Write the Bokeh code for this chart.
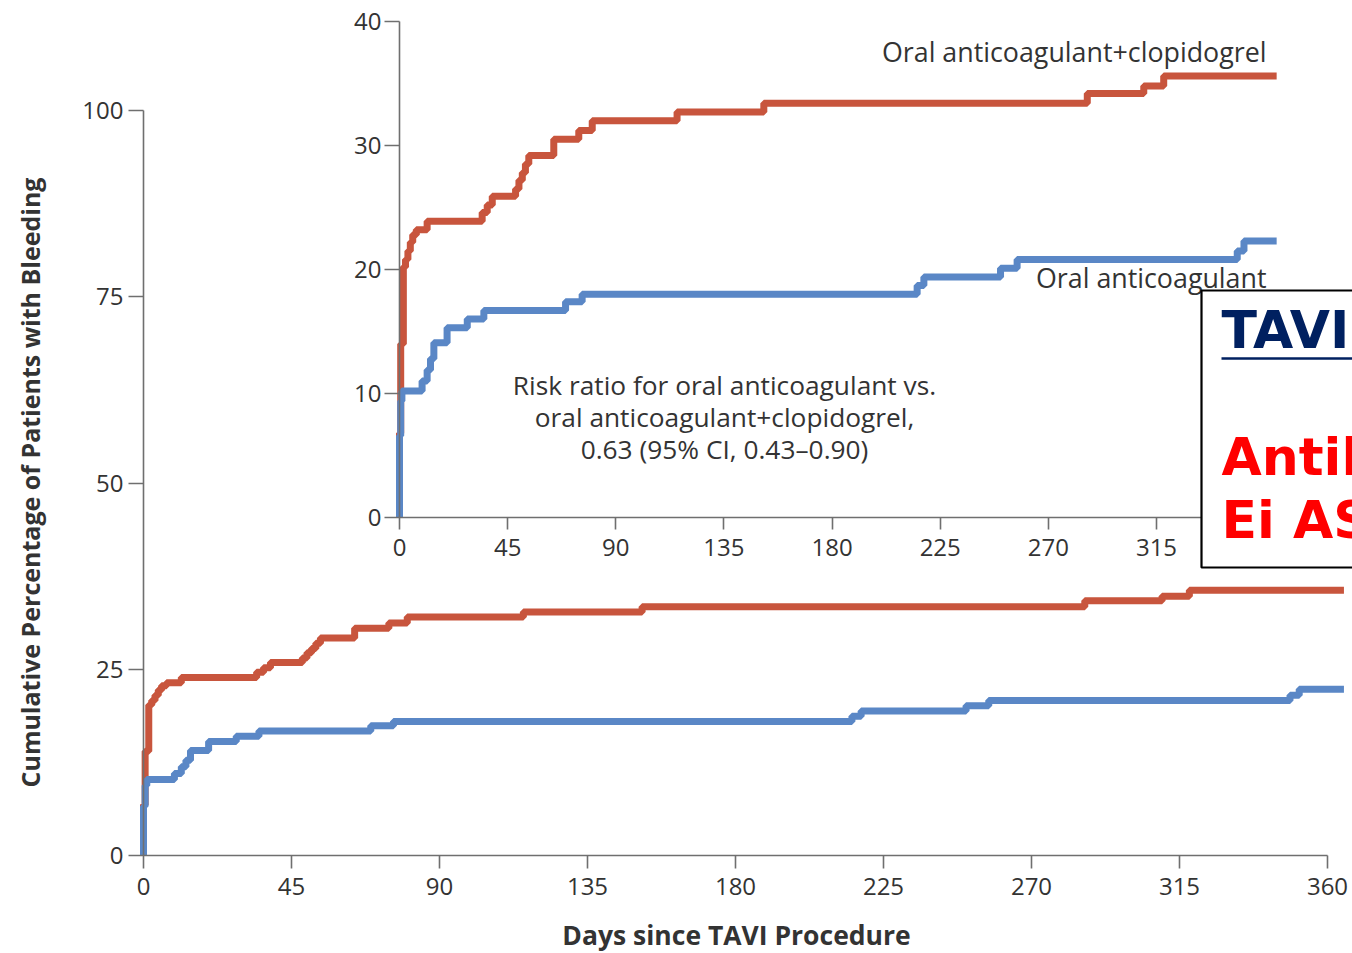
import math
from bokeh.plotting import figure
from bokeh.models import Range1d, LinearAxis, FixedTicker, Label
from bokeh.core.properties import value
from bokeh.embed import file_html
from bokeh.resources import INLINE

# ---------------- data ----------------
# Oral anticoagulant + clopidogrel (red)
days_oac_clop = [0, 0, 0.5, 1.6, 2.5, 3.5, 4.5, 5.5, 7.0, 11.5, 34.4, 36.5, 38.6,
                 48.3, 49.7, 51.1, 52.4, 53.8, 64.2, 74.6, 80.2, 115.5, 151.6,
                 286.2, 309.7, 318.0, 365]
pct_oac_clop = [0, 6.8, 14.0, 20.2, 20.8, 21.5, 22.2, 22.8, 23.2, 23.9, 24.6, 25.2, 25.9,
                26.5, 27.2, 27.8, 28.5, 29.2, 30.5, 31.2, 32.0, 32.7, 33.4,
                34.2, 34.8, 35.6, 35.6]
# Oral anticoagulant alone (blue)
days_oac = [0, 0, 0.5, 1.0, 9.4, 11.5, 12.9, 14.3, 19.8, 28.2, 35.1, 69.1, 76.0,
            215.4, 218.2, 250.1, 257.0, 348.6, 351.4, 365]
pct_oac = [0, 6.6, 9.4, 10.2, 11.0, 11.9, 12.8, 14.1, 15.3, 16.0, 16.7, 17.4, 18.0,
           18.7, 19.4, 20.1, 20.8, 21.5, 22.3, 22.3]

x_ticks = [0, 45, 90, 135, 180, 225, 270, 315, 360]
main_y_ticks = [0, 25, 50, 75, 100]
inset_y_ticks = [0, 10, 20, 30, 40]

series_labels = ["Oral anticoagulant+clopidogrel", "Oral anticoagulant"]
risk_lines = ["Risk ratio for oral anticoagulant vs.",
              "oral anticoagulant+clopidogrel,",
              "0.63 (95% CI, 0.43\u20130.90)"]
x_title = "Days since TAVI Procedure"
y_title = "Cumulative Percentage of Patients with Bleeding"
box_title = "TAVI"
box_lines = ["Antikoagulantti", "Ei ASA"]

# ---------------- layout helpers (pixel geometry) ----------------
W, H = 1352, 953
M_X0, M_PXD = 143, 1184 / 360      # main: day 0 px, px per day
M_Y0, M_PXV = 855, 7.45            # main: value 0 px, px per unit
I_X0, I_PXD = 399, 757 / 315       # inset
I_Y0, I_PXV = 517, 12.4

def m_day(px): return (px - M_X0) / M_PXD
def m_val(py): return (M_Y0 - py) / M_PXV
def i_day(px): return (px - I_X0) / I_PXD
def i_val(py): return (I_Y0 - py) / I_PXV

OS_SHIFT = 12      # baseline correction for ~26px text (px)
RED = "#C8553D"
BLUE = "#5A87C6"
TXT = "#333333"
AX = "#6f6f6f"
FONT = "Open Sans"

# the plotting frame covers the whole canvas; all axes are placed at fixed locations
p = figure(width=W, height=H, output_backend="svg", toolbar_location=None,
           x_range=Range1d(m_day(0), m_day(W)),
           y_range=Range1d(m_val(H), m_val(0)),
           x_axis_location=None, y_axis_location=None,
           min_border_left=0, min_border_right=0,
           min_border_top=0, min_border_bottom=0)
p.center = []
p.outline_line_color = None
p.background_fill_color = "white"
p.border_fill_color = "white"
p.extra_x_ranges = {"ix": Range1d(i_day(0), i_day(W))}
p.extra_y_ranges = {"iy": Range1d(i_val(H), i_val(0))}

def style_axis(ax, tick_out, standoff):
    ax.axis_line_color = AX
    ax.axis_line_width = 1.6
    ax.major_tick_line_color = AX
    ax.major_tick_line_width = 1.6
    ax.major_tick_out = tick_out
    ax.major_tick_in = 0
    ax.minor_tick_line_color = None
    ax.major_label_text_font = FONT
    ax.major_label_text_font_size = "24px"
    ax.major_label_text_color = TXT
    ax.major_label_standoff = standoff

# main axes
mx = LinearAxis(bounds=(0, 360), ticker=FixedTicker(ticks=x_ticks), fixed_location=0)
style_axis(mx, 13, 9)
p.add_layout(mx, "below")
my = LinearAxis(bounds=(0, 100), ticker=FixedTicker(ticks=main_y_ticks), fixed_location=0)
style_axis(my, 15, 5)
p.add_layout(my, "left")

# inset axes
ix = LinearAxis(x_range_name="ix", y_range_name="iy", fixed_location=0,
                bounds=(0, 360), ticker=FixedTicker(ticks=x_ticks))
style_axis(ix, 12, 9)
p.add_layout(ix, "below")
iy = LinearAxis(x_range_name="ix", y_range_name="iy", fixed_location=0,
                bounds=(0, 40), ticker=FixedTicker(ticks=inset_y_ticks))
style_axis(iy, 15, 3)
p.add_layout(iy, "left")

LW = 7
# main curves
p.step(days_oac_clop, pct_oac_clop, mode="after", line_width=LW, line_color=RED)
p.step(days_oac, pct_oac, mode="after", line_width=LW, line_color=BLUE)
# inset curves
p.step(days_oac_clop, pct_oac_clop, mode="after", line_width=LW, line_color=RED,
       x_range_name="ix", y_range_name="iy")
p.step(days_oac, pct_oac, mode="after", line_width=LW, line_color=BLUE,
       x_range_name="ix", y_range_name="iy")

# series labels in inset
p.text(x=[i_day(1266), i_day(1266)],
       y=[i_val(63 - OS_SHIFT), i_val(289 - OS_SHIFT)], text=series_labels,
       text_font=value(FONT), text_font_size=value("26.8px"), text_color=TXT,
       text_align="right", text_baseline="alphabetic",
       x_range_name="ix", y_range_name="iy")
# risk ratio annotation
p.text(x=[i_day(724)] * 3,
       y=[i_val(396 - OS_SHIFT), i_val(428 - OS_SHIFT), i_val(460 - OS_SHIFT)],
       text=risk_lines,
       text_font=value(FONT), text_font_size=value("26.3px"), text_color=TXT,
       text_align="center", text_baseline="alphabetic",
       x_range_name="ix", y_range_name="iy")

# axis titles
p.add_layout(Label(x=m_day(736), y=m_val(946 - OS_SHIFT), text=x_title, text_font=FONT,
                   text_font_size="26.5px", text_font_style="bold", text_color=TXT,
                   text_align="center", text_baseline="alphabetic"))
p.add_layout(Label(x=m_day(29), y=m_val(482), text=y_title, text_font=FONT,
                   angle=math.pi / 2, text_font_size="25px", text_font_style="bold",
                   text_color=TXT, text_align="center", text_baseline="middle"))

# overlay box on the right
BOX_SHIFT = 21
p.quad(left=[i_day(1201)], right=[i_day(1400)], bottom=[i_val(567)], top=[i_val(290)],
       fill_color="white", line_color="black", line_width=2.2, level="overlay",
       x_range_name="ix", y_range_name="iy")
p.text(x=[i_day(1221)], y=[i_val(350 - BOX_SHIFT)], text=[box_title],
       text_font=value("DejaVu Sans"), text_font_style="bold",
       text_font_size=value("52px"), text_color="#002060",
       text_baseline="alphabetic", level="overlay",
       x_range_name="ix", y_range_name="iy")
p.segment(x0=[i_day(1221)], x1=[i_day(1400)], y0=[i_val(358)], y1=[i_val(358)],
          line_color="#002060", line_width=2.5, level="overlay",
          x_range_name="ix", y_range_name="iy")
p.text(x=[i_day(1221)] * 2, y=[i_val(477 - BOX_SHIFT), i_val(540 - BOX_SHIFT)],
       text=box_lines,
       text_font=value("DejaVu Sans"), text_font_style="bold",
       text_font_size=value("52px"), text_color="#FF0000",
       text_baseline="alphabetic", level="overlay",
       x_range_name="ix", y_range_name="iy")

open("out.html", "w").write(file_html(p, INLINE))
